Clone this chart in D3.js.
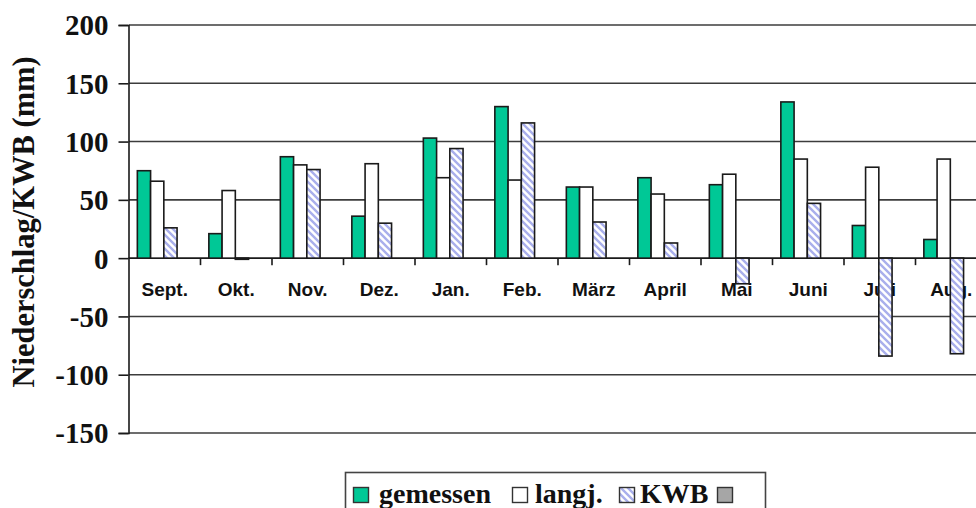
<!DOCTYPE html>
<html>
<head>
<meta charset="utf-8">
<script src="https://cdn.jsdelivr.net/npm/d3@7"></script>
<style>
	body { margin: 0; background: white; }
	svg { display: block; }
</style>
</head>
<body>
<script>
const months = ["Sept.", "Okt.", "Nov.", "Dez.", "Jan.", "Feb.", "März", "April", "Mai", "Juni", "Juli", "Aug."];
const gemessen = [75, 21, 87, 36, 103, 130, 61, 69, 63, 134, 28, 16];
const langj = [66, 58, 80, 81, 69, 67, 61, 55, 72, 85, 78, 85];
const kwb = [26, -1, 76, 30, 94, 116, 31, 13, -22, 47, -84, -82];
const seriesNames = ["gemessen", "langj.", "KWB", ""];
const yTicks = [200, 150, 100, 50, 0, -50, -100, -150];

const w = 976;
const h = 508;

const green = "#00c896";
const outline = "#1a1a1a";
const gridColor = "#3c3c3c";

const svg = d3.select("body")
	.append("svg")
	.attr("width", w)
	.attr("height", h);

// hatch for KWB
const defs = svg.append("defs");
const pat = defs.append("pattern")
	.attr("id", "hatch")
	.attr("patternUnits", "userSpaceOnUse")
	.attr("width", 7)
	.attr("height", 7);
pat.append("rect")
	.attr("width", 7)
	.attr("height", 7)
	.attr("fill", "white");
pat.append("path")
	.attr("d", "M0,0 L7,7 M-1,6 L1,8 M6,-1 L8,1")
	.attr("stroke", "#a9afec")
	.attr("stroke-width", 2.4);

const x0 = d3.scaleBand()
	.domain(months)
	.range([129, 987])
	.paddingInner(0)
	.paddingOuter(0);

const x1 = d3.scaleBand()
	.domain(seriesNames.map((d, i) => i))
	.range([0, x0.bandwidth()])
	.paddingInner(0)
	.paddingOuter(0.7)
	.align(0.45);

const y = d3.scaleLinear()
	.domain([-150, 200])
	.range([433, 25]);

// gridlines
svg.append("g")
	.selectAll("line")
	.data(yTicks.filter(d => d !== 0))
	.enter()
	.append("line")
	.attr("x1", 129)
	.attr("x2", w)
	.attr("y1", d => y(d))
	.attr("y2", d => y(d))
	.attr("stroke", gridColor)
	.attr("stroke-width", 1.6);

// y axis
const yAxis = svg.append("g")
	.attr("transform", "translate(128.5,0)")
	.call(d3.axisLeft(y).tickValues(yTicks).tickSize(10).tickPadding(10).tickFormat(d => String(d)));
yAxis.select(".domain").attr("stroke", outline).attr("stroke-width", 1.6);
yAxis.selectAll(".tick line").attr("stroke", outline).attr("stroke-width", 1.6);
yAxis.selectAll("text")
	.attr("fill", "#111")
	.style("font-family", "'Liberation Serif', 'Times New Roman', serif")
	.style("font-weight", "bold")
	.style("font-size", "29px")
	.attr("dy", "0.34em");

svg.append("text")
	.attr("transform", "translate(34,222) rotate(-90)")
	.attr("text-anchor", "middle")
	.style("font-family", "'Liberation Serif', 'Times New Roman', serif")
	.style("font-weight", "bold")
	.style("font-size", "30.5px")
	.attr("fill", "#111")
	.text("Niederschlag/KWB (mm)");

// category labels (drawn under bars)
svg.append("g")
	.selectAll("text")
	.data(months)
	.enter()
	.append("text")
	.attr("x", d => x0(d) + x0.bandwidth() / 2)
	.attr("y", 296)
	.attr("text-anchor", "middle")
	.style("font-family", "'Liberation Sans', Arial, sans-serif")
	.style("font-weight", "bold")
	.style("font-size", "19px")
	.attr("fill", "#111")
	.text(d => d);

// x axis at zero with ticks between categories
svg.append("line")
	.attr("x1", 128.5)
	.attr("x2", w)
	.attr("y1", y(0))
	.attr("y2", y(0))
	.attr("stroke", outline)
	.attr("stroke-width", 1.6);

svg.append("g")
	.selectAll("line")
	.data(months.slice(1))
	.enter()
	.append("line")
	.attr("x1", d => x0(d))
	.attr("x2", d => x0(d))
	.attr("y1", y(0))
	.attr("y2", y(0) + 7)
	.attr("stroke", outline)
	.attr("stroke-width", 1.6);

// bars
const series = [
	{ values: gemessen, fill: green },
	{ values: langj, fill: "white" },
	{ values: kwb, fill: "url(#hatch)" }
];

series.forEach((s, i) => {
	svg.append("g")
		.selectAll("rect")
		.data(s.values)
		.enter()
		.append("rect")
		.attr("x", (d, j) => x0(months[j]) + x1(i))
		.attr("width", x1.bandwidth())
		.attr("y", d => y(Math.max(0, d)))
		.attr("height", d => Math.abs(y(d) - y(0)))
		.attr("fill", s.fill)
		.attr("stroke", outline)
		.attr("stroke-width", 1.6);
});

// legend
const legend = svg.append("g");
legend.append("rect")
	.attr("x", 345.5)
	.attr("y", 472.5)
	.attr("width", 420)
	.attr("height", 60)
	.attr("fill", "white")
	.attr("stroke", "#444")
	.attr("stroke-width", 1.6);

const legendItems = [
	{ x: 353, tx: 379, label: "gemessen", fill: green },
	{ x: 512, tx: 535, label: "langj.", fill: "white" },
	{ x: 619, tx: 640, label: "KWB", fill: "url(#hatch)" },
	{ x: 717, tx: 740, label: "", fill: "#a6a6a6" }
];

legendItems.forEach(it => {
	legend.append("rect")
		.attr("x", it.x + 0.5)
		.attr("y", 487.5)
		.attr("width", 15)
		.attr("height", 15)
		.attr("fill", it.fill)
		.attr("stroke", "#333")
		.attr("stroke-width", 1.4);
	legend.append("text")
		.attr("x", it.tx)
		.attr("y", 503)
		.style("font-family", "'Liberation Serif', 'Times New Roman', serif")
		.style("font-weight", "bold")
		.style("font-size", "28px")
		.attr("fill", "#111")
		.text(it.label);
});
</script>
</body>
</html>
